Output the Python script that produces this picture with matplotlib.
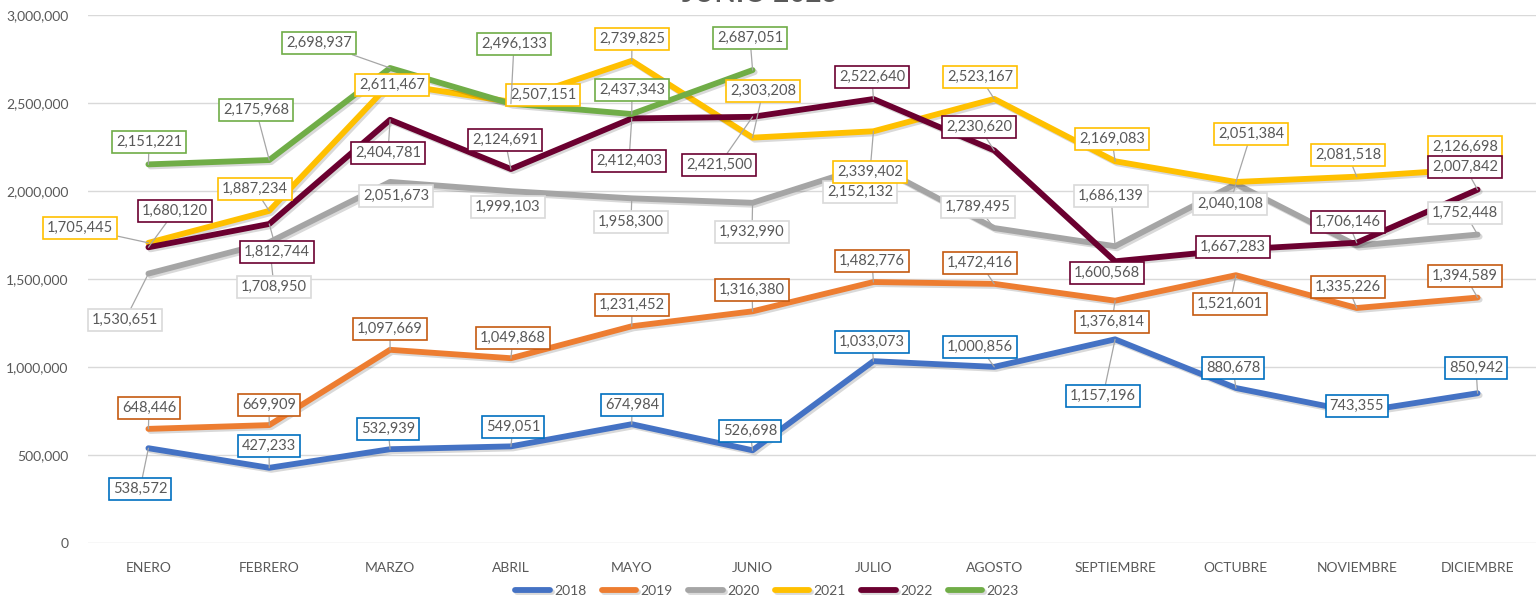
import matplotlib
matplotlib.use("Agg")
import matplotlib.pyplot as plt
import matplotlib.patheffects as pe
import numpy as np
from matplotlib.ticker import FuncFormatter

months = ["ENERO", "FEBRERO", "MARZO", "ABRIL", "MAYO", "JUNIO", "JULIO",
          "AGOSTO", "SEPTIEMBRE", "OCTUBRE", "NOVIEMBRE", "DICIEMBRE"]

y2018 = [538572, 427233, 532939, 549051, 674984, 526698, 1033073, 1000856,
         1157196, 880678, 743355, 850942]
y2019 = [648446, 669909, 1097669, 1049868, 1231452, 1316380, 1482776, 1472416,
         1376814, 1521601, 1335226, 1394589]
y2020 = [1530651, 1708950, 2051673, 1999103, 1958300, 1932990, 2152132, 1789495,
         1686139, 2040108, 1690000, 1752448]
y2021 = [1705445, 1887234, 2611467, 2507151, 2739825, 2303208, 2339402, 2523167,
         2169083, 2051384, 2081518, 2126698]
y2022 = [1680120, 1812744, 2404781, 2124691, 2412403, 2421500, 2522640, 2230620,
         1600568, 1667283, 1706146, 2007842]
y2023 = [2151221, 2175968, 2698937, 2496133, 2437343, 2687051]

series = [("2018", y2018), ("2019", y2019), ("2020", y2020),
          ("2021", y2021), ("2022", y2022), ("2023", y2023)]

line_colors = {"2018": "#4472C4", "2019": "#ED7D31", "2020": "#A5A5A5",
               "2021": "#FFC000", "2022": "#6B0030", "2023": "#70AD47"}
box_colors = {"2018": "#0070C0", "2019": "#C55A11", "2020": "#D9D9D9",
              "2021": "#FFC000", "2022": "#6B0030", "2023": "#70AD47"}

# label box centres in image pixels (x, y from top); None = not shown
label_pos = {
    "2018": [(140, 489), (269, 446), (388, 429), (513, 427), (632, 405), (750, 431),
             (872, 342), (980, 347), (1103, 396), (1233, 368), (1357, 406), (1476, 368)],
    "2019": [(149, 408), (269, 405), (390, 329), (513, 338), (632, 305), (752, 290),
             (872, 261), (980, 263), (1112, 322), (1230, 304), (1348, 287), (1465, 276)],
    "2020": [(125, 320), (274, 287), (396, 196), (508, 207), (631, 222), (752, 232),
             (860, 192), (978, 207), (1111, 196), (1230, 204), None, (1465, 213)],
    "2021": [(80, 228), (255, 189), (392, 85), (543, 95), (632, 39), (763, 91),
             (870, 172), (980, 77), (1112, 139), (1251, 134), (1348, 155), (1465, 147)],
    "2022": [(175, 211), (277, 252), (388, 153), (505, 140), (629, 161), (719, 165),
             (872, 77), (979, 127), (1107, 273), (1233, 247), (1348, 222), (1465, 167)],
    "2023": [(149, 142), (256, 110), (319, 43), (514, 44), (632, 90), (750, 38)],
}

W, H = 1536, 600
fig = plt.figure(figsize=(W / 100, H / 100), dpi=100)
ax = fig.add_axes([88 / W, 57 / H, 1450 / W, 528 / H])
font = "Lato"
gray_txt = "#595959"

x = np.arange(len(months))
for name, vals in series:
    ax.plot(x[:len(vals)], vals, color=line_colors[name], lw=4.2, label=name,
            solid_capstyle="round", solid_joinstyle="round", zorder=3,
            path_effects=[pe.SimpleLineShadow(offset=(1.5, -1.5), alpha=0.15),
                          pe.Normal()])

ax.set_xlim(-0.5, 11.5)
ax.set_ylim(0, 3000000)
ax.set_yticks(np.arange(0, 3000001, 500000))
ax.yaxis.set_major_formatter(FuncFormatter(lambda v, p: f"{int(v):,}"))
ax.set_xticks(x)
ax.set_xticklabels(months)
ax.grid(axis="y", color="#D9D9D9", lw=1)
ax.set_axisbelow(True)
for s in ax.spines.values():
    s.set_visible(False)
ax.tick_params(length=0, colors=gray_txt, labelsize=10)
ax.tick_params(axis="y", pad=14)
ax.tick_params(axis="x", pad=14)
for t in ax.get_xticklabels() + ax.get_yticklabels():
    t.set_fontfamily(font)

fig.canvas.draw()
for name, vals in series:
    for i, v in enumerate(vals):
        pos = label_pos[name][i]
        if pos is None:
            continue
        lx, ly = pos[0], H - pos[1]
        px, py = ax.transData.transform((i, v))
        far = abs(lx - px) > 46 or abs(ly - py) > 19
        ax.annotate(f"{v:,}", xy=(i, v), xycoords="data",
                    xytext=(lx, ly), textcoords="figure pixels",
                    ha="center", va="center", fontsize=10.5, fontfamily=font,
                    color=gray_txt, zorder=5, annotation_clip=False,
                    bbox=dict(boxstyle="square,pad=0.28", fc="white",
                              ec=box_colors[name], lw=1.2),
                    arrowprops=dict(arrowstyle="-", color="#A6A6A6", lw=0.9,
                                    shrinkA=0, shrinkB=0) if far else None)

leg = fig.legend(loc="center", bbox_to_anchor=(767 / W, 1 - 591 / H), ncol=6,
                 frameon=False, handlelength=2.5, columnspacing=1.1,
                 handletextpad=0.3, prop={"family": font, "size": 10})
for t in leg.get_texts():
    t.set_color(gray_txt)

fig.text(760 / W, 1 + 6 / H, "JUNIO 2023", ha="center", va="center",
         fontsize=20, fontweight="bold", color=gray_txt, fontfamily=font)

fig.savefig("out.png", dpi=100)
